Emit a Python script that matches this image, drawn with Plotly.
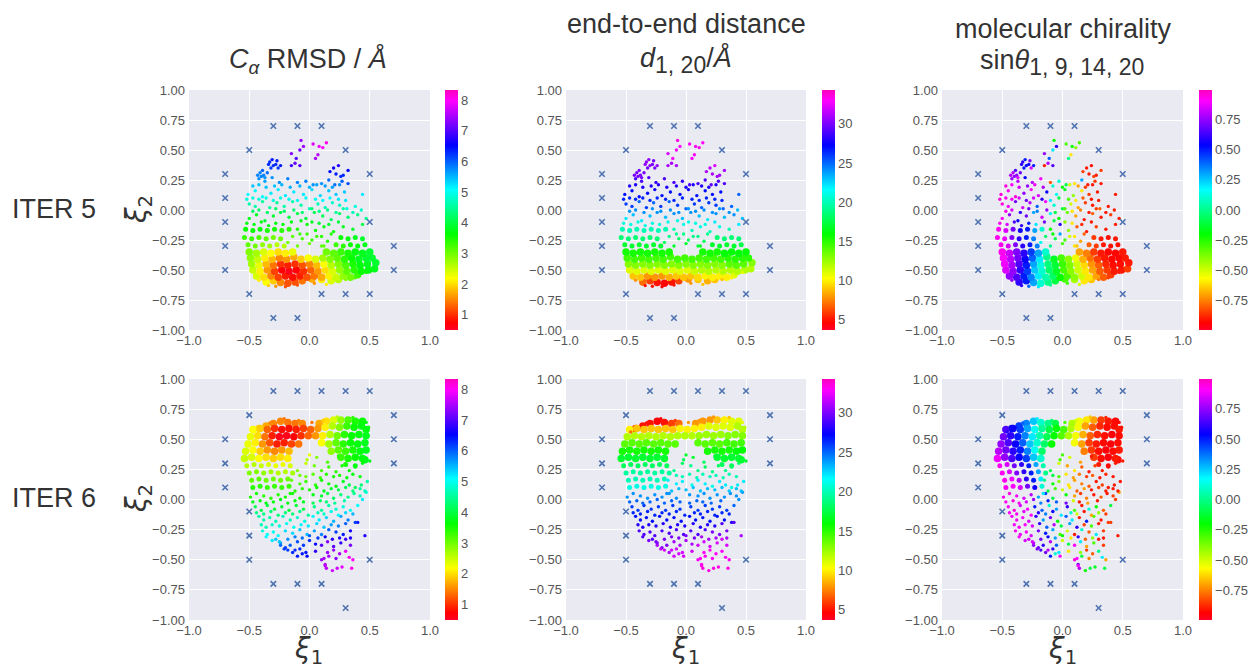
import plotly.graph_objects as go

# ---------- values ----------
# ITER 5, dense cloud
x5_dense = [-.36,-.30,-.24,-.18,-.12,-.06,.02,.10,.18,.24,
 -.44,-.38,-.32,-.26,-.20,-.14,-.08,-.02,.04,.10,.16,.22,.28,.34,.40,
 -.47,-.41,-.35,-.29,-.23,-.17,-.11,-.05,.01,.07,.13,.19,.25,.31,.37,.43,.49,.54,
 -.48,-.42,-.36,-.30,-.24,-.18,-.12,-.06,0,.06,.12,.18,.24,.30,.36,.42,.48,.55,
 -.49,-.43,-.37,-.31,-.25,-.19,-.13,-.07,-.01,.05,.11,.17,.23,.29,.35,.41,.47,.52,
 -.50,-.44,-.38,-.32,-.26,-.20,-.14,.14,.20,.26,.32,.38,.44,.50,
 -.51,-.45,-.39,-.33,-.27,-.21,.22,.28,.34,.40,.46,
 -.54,-.48,-.42,-.36,-.30,-.24,.26,.32,.38,.44,
 -.53,-.47,-.41,-.35,-.29,-.23,-.17]
y5_dense = [-.60,-.59,-.605,-.61,-.60,-.59,-.575,-.58,-.59,-.58,
 -.55,-.56,-.55,-.56,-.55,-.56,-.55,-.56,-.55,-.56,-.55,-.56,-.55,-.56,-.54,
 -.50,-.51,-.50,-.51,-.50,-.51,-.50,-.51,-.50,-.51,-.50,-.51,-.50,-.51,-.50,-.51,-.50,-.49,
 -.45,-.46,-.45,-.46,-.45,-.46,-.45,-.46,-.45,-.46,-.45,-.46,-.45,-.46,-.45,-.46,-.45,-.44,
 -.40,-.41,-.40,-.41,-.40,-.41,-.39,-.41,-.40,-.41,-.40,-.41,-.40,-.41,-.40,-.41,-.40,-.40,
 -.35,-.36,-.35,-.36,-.35,-.36,-.35,-.35,-.36,-.35,-.36,-.35,-.36,-.35,
 -.29,-.30,-.29,-.30,-.29,-.30,-.29,-.30,-.29,-.30,-.29,
 -.23,-.24,-.23,-.24,-.23,-.24,-.23,-.24,-.23,-.24,
 -.16,-.17,-.16,-.17,-.16,-.17,-.16]
rmsd5_dense = [2.2,1.9,1.5,1.2,1.2,1.4,1.7,2.1,2.4,2.6,
 2.4,2.0,1.5,1.1,.9,.8,.9,1.2,1.4,1.7,2.1,2.5,2.8,3.0,3.3,
 2.5,2.1,1.6,1.1,.7,.6,.7,1.0,1.3,1.6,2.0,2.4,2.8,3.1,3.4,3.6,3.7,3.8,
 2.7,2.3,1.8,1.4,1.0,.9,1.0,1.2,1.5,1.8,2.2,2.6,2.9,3.2,3.5,3.7,3.8,3.9,
 2.8,2.5,2.1,1.8,1.5,1.6,1.7,1.9,2.2,2.4,2.7,2.9,3.1,3.4,3.6,3.8,3.9,3.9,
 2.9,2.7,2.4,2.2,2.0,2.1,2.3,3.0,3.1,3.3,3.5,3.7,3.8,3.9,
 3.1,3.0,2.8,2.7,2.6,2.6,3.3,3.4,3.6,3.7,3.8,
 3.3,3.3,3.2,3.1,3.0,3.0,3.6,3.7,3.8,3.9,
 3.6,3.6,3.6,3.5,3.5,3.4,3.4]
dist5_dense = [7,6,5,4.5,5,6,8,9,8.5,9,
 9,9,8,8,8,8.5,9,9,9,9.5,10,10,10,10,11,
 11,11,11,11,11,11,11,11,11,11.5,12,12,12,12,12,12,12,12,
 13,13,13,13,13,13,13,13,13,13,13,13,13,13,14,14,14,13,
 14.5,14.5,14.5,14.5,14.5,14.5,14.5,14.5,14.5,14.5,14.5,14.5,14.5,14.5,15,15,15,15,
 15.5,15.5,15.5,15.5,15.5,15.5,15.5,15.5,15.5,15.5,16,16,16,16,
 17,17,17,17,17,17,17,17,17,17,17.5,
 18.5,18.5,18.5,18.5,18.5,18.5,18.5,18.5,18.5,18.5,
 20,20,20,20,20,20,20]
chir5_dense = [.6,.5,.3,.1,0,-.1,-.3,-.45,-.6,-.65,
 .75,.65,.5,.35,.2,.05,-.05,-.2,-.3,-.4,-.5,-.6,-.7,-.8,-.85,
 .85,.75,.6,.45,.25,.1,-.05,-.15,-.3,-.4,-.5,-.6,-.7,-.8,-.85,-.9,-.9,-.85,
 .88,.78,.65,.5,.3,.12,-.02,-.12,-.28,-.38,-.5,-.62,-.72,-.8,-.88,-.92,-.92,-.9,
 .9,.8,.7,.55,.4,.2,0,-.15,-.3,-.4,-.55,-.68,-.78,-.85,-.9,-.93,-.93,-.9,
 .92,.82,.72,.6,.45,.3,.1,-.7,-.75,-.85,-.9,-.93,-.93,-.9,
 .92,.85,.72,.6,.5,.35,-.8,-.85,-.9,-.92,-.92,
 .93,.88,.72,.6,.5,.35,-.85,-.9,-.92,-.9,
 .92,.85,.7,.55,.5,.3,.1]

# ITER 5, sparse points
x5_sparse = [-.10,0,.10,-.06,.06,.15,
 -.10,-.02,.05,.12,.20,.28,.36,.44,
 -.50,-.44,-.37,-.30,-.24,-.17,-.10,-.03,.04,.11,.18,.25,.32,.40,.47,
 -.50,-.45,-.39,-.33,-.27,-.21,-.14,-.07,0,.07,.13,.19,.25,.31,.38,
 -.51,-.45,-.39,-.32,-.26,-.20,-.13,-.05,.02,.09,.16,.22,.29,.44,
 -.42,-.37,-.31,-.25,-.18,-.10,-.03,.03,.10,.16,.21,.27,.32,
 -.41,-.38,-.34,-.30,-.27,-.24,-.15,-.12,-.08,.17,.20,.24,.28,.32,
 -.15,-.11,-.08,-.05,-.07,.03,.07,.08,.11,.14,.05,
 -.52,-.46,-.40,-.34,-.28,-.22,-.15,-.07,.02,.08,.16,.24,
 -.47,-.42,-.35,-.28,-.21,-.13,-.06,.02,.08,.15,.22,.28,.36,.43,
 -.52,-.47,-.42,-.36,-.30,-.24,-.17,-.10,-.03,.05,.11,.17,.24,.30,
 -.47,-.42,-.36,-.29,-.23,-.16,-.08,0,.06,.13,.19,.25,
 -.43,-.40,-.37,-.35,-.39,-.33,-.31,-.28,-.26,-.32,.22,.26,
 -.18,-.14,-.02,.02,.10,.18,.12,-.08,
 -.42,-.34,-.28,-.20,-.10,.04,.14,.30,.38,.47]
y5_sparse = [-.30,-.28,-.30,-.24,-.22,-.26,
 -.16,-.12,-.17,-.14,-.18,-.14,-.16,-.12,
 -.07,-.04,-.09,-.05,-.02,-.06,-.03,-.07,-.02,-.05,-.08,-.03,-.06,-.04,-.07,
 .05,.03,.07,.02,.06,.03,.07,.04,.01,.05,.02,.06,.04,.01,.03,
 .13,.16,.11,.14,.17,.12,.15,.13,.17,.12,.16,.13,.15,.13,
 .26,.24,.27,.23,.26,.23,.24,.21,.22,.25,.21,.24,.22,
 .31,.29,.38,.37,.41,.37,.37,.39,.37,.32,.35,.37,.29,.33,
 .47,.43,.50,.53,.58,.55,.46,.53,.52,.56,.43,
 -.11,-.12,-.10,-.13,-.11,-.12,-.10,-.09,-.10,-.11,-.12,-.10,
 -.01,0,-.02,.01,-.01,0,-.02,.01,-.01,0,-.02,.01,-.02,0,
 .09,.10,.09,.10,.08,.10,.09,.08,.10,.09,.08,.10,.09,.08,
 .20,.21,.19,.20,.21,.19,.20,.19,.21,.20,.19,.21,
 .29,.28,.27,.31,.33,.40,.42,.38,.35,.35,.30,.28,
 -.27,-.22,-.20,-.25,-.22,-.20,-.30,-.20,
 -.585,-.63,-.635,-.64,-.625,-.61,-.62,-.58,-.565,-.52]
rmsd5_sparse = [3.0,3.0,3.1,3.2,3.3,3.4,
 3.5,3.6,3.6,3.7,3.6,3.8,3.9,4.0,
 3.8,3.8,3.9,3.9,4.0,4.0,4.0,4.0,4.1,4.1,4.2,4.2,4.3,4.4,4.5,
 4.6,4.6,4.5,4.5,4.5,4.6,4.6,4.6,4.7,4.7,4.7,4.8,4.8,4.9,4.9,
 5.1,5.1,5.1,5.2,5.2,5.2,5.2,5.2,5.3,5.3,5.4,5.4,5.4,5.2,
 5.7,5.6,5.7,5.7,5.8,5.8,5.8,5.7,5.7,5.9,5.9,6.0,6.1,
 5.8,5.8,6.3,6.3,6.4,6.4,6.9,7.1,7.0,6.5,6.6,6.7,6.3,6.5,
 7.3,7.0,7.2,7.4,7.4,7.8,7.6,7.9,8.0,8.1,7.5,
 3.7,3.7,3.7,3.7,3.7,3.7,3.7,3.7,3.8,3.9,3.9,4.0,
 4.2,4.2,4.2,4.2,4.2,4.3,4.3,4.3,4.4,4.4,4.5,4.6,4.7,4.8,
 4.9,4.9,4.9,4.9,4.9,4.9,5.0,5.0,5.0,5.0,5.1,5.1,5.2,5.2,
 5.4,5.4,5.4,5.4,5.5,5.5,5.5,5.5,5.6,5.6,5.6,5.7,
 5.8,5.8,5.7,5.9,6.0,6.3,6.4,6.3,6.2,6.2,6.4,6.3,
 3.0,3.1,3.3,3.3,3.4,3.4,3.1,3.3,
 2.1,1.9,1.6,1.2,1.2,1.6,2.1,2.9,3.2,3.6]
dist5_sparse = [17,17,17,18,19,18,
 20,21,20,21,20,21,20,22,
 22,23,22,23,24,23,24,23,24,23,22,24,23,24,23,
 26,26,25,26,25,26,25,26,25,26,25,26,26,25,25,
 27,27,27,27,27.5,27,27,27,27.5,27,27,27,27,25,
 29,29,29,28.5,29,29,28.5,29,29,29,29.5,29,29,
 30,30,30.5,30.5,30,30.5,31,31,31,31,31.5,32,31,31,
 32,33,33,33,33.5,33,33,33,33.5,33,33,
 21,21,21,21,21,21,21,21,21,21,21,22,
 24,24,24,24,24,24,24,24,24,24,24,24,24,23,
 26.5,26.5,26.5,26.5,26.5,26.5,26.5,26.5,26.5,26.5,26.5,26.5,26.5,26.5,
 28,28,28,28,28,28,28,28,28,28,28,28,
 30,30,30,30,30,30.5,30.5,30,30,30,31,31,
 18,19,19,18,19,19,17,19,
 8,5,5,4.5,5,8,9,9,10,11]
chir5_sparse = [0,-.3,-.6,-.1,-.5,-.7,
 -.2,.6,-.4,-.8,-.9,-.85,-.9,-.9,
 .9,.75,.55,.7,.3,.85,.15,-.2,-.35,-.7,-.9,-.8,-.9,-.85,-.9,
 .95,.9,.7,.85,.8,.4,.9,.1,-.1,-.5,-.7,-.85,-.9,-.8,-.9,
 .95,.92,.95,.75,.9,.85,.55,.15,-.15,-.4,-.6,-.85,-.9,-.9,
 .75,.8,.55,.8,.9,-.8,.1,-.1,-.6,.3,-.9,-.85,-.9,
 .8,.75,.6,.55,.7,.5,-.9,.8,.65,-.85,-.9,-.92,-.9,-.85,
 .75,.4,.2,.6,-.2,-.3,-.6,-.2,-.4,-.3,0,
 .92,.85,.65,.6,.5,.2,.7,-.1,-.4,-.6,-.88,-.9,
 .92,.85,.6,.7,.35,.75,-.1,-.3,-.6,-.75,-.9,-.85,-.9,-.9,
 .95,.92,.9,.85,.7,.85,.6,.2,-.1,-.3,-.6,-.8,-.9,-.9,
 .95,.9,.85,.75,.9,.8,.1,-.2,-.5,-.7,-.85,-.9,
 .8,.75,.85,.7,.65,.6,.5,.55,.85,.5,-.9,-.85,
 .15,-.05,.3,-.3,-.6,-.8,-.65,-.2,
 .75,.6,.4,.2,0,-.3,-.5,-.75,-.85,-.9]

# ITER 6, dense cloud
x6_dense = [-.42,-.36,-.30,-.24,-.18,-.12,-.06,.08,.14,.20,.26,.32,.38,.44,
 -.47,-.41,-.35,-.29,-.23,-.17,-.11,-.05,.01,.07,.13,.19,.25,.31,.37,.43,.47,
 -.49,-.43,-.37,-.31,-.25,-.19,-.13,-.07,-.01,.05,.11,.17,.23,.29,.35,.41,.47,
 -.51,-.45,-.39,-.33,-.27,-.21,-.15,-.09,.10,.16,.22,.28,.34,.40,.46,
 -.53,-.47,-.41,-.35,-.29,-.23,-.17,.18,.24,.30,.36,.42,.47,
 -.54,-.48,-.42,-.36,-.30,-.24,-.18,.46,.26,.32,.38,.44,
 -.52,-.46,-.40,-.34,-.28,-.22,-.16,.30,.38,
 -.50,-.44,-.38,-.32,-.26,-.20,-.14,
 -.48,-.42,-.36,-.30,-.24,-.18,
 -.47,-.41,-.35,-.29,-.23,-.17]
y6_dense = [.59,.61,.63,.65,.64,.63,.63,.63,.65,.66,.66,.66,.65,.65,
 .58,.59,.58,.59,.58,.59,.58,.59,.58,.59,.60,.61,.60,.61,.60,.61,.58,
 .52,.53,.52,.53,.52,.53,.52,.53,.53,.53,.53,.54,.53,.54,.53,.54,.53,
 .46,.47,.46,.47,.46,.47,.46,.46,.47,.46,.47,.46,.47,.46,.47,
 .40,.41,.40,.41,.40,.41,.40,.40,.41,.40,.41,.40,.41,
 .34,.35,.34,.35,.34,.35,.34,.33,.35,.34,.35,.34,
 .28,.29,.28,.29,.28,.29,.28,.29,.28,
 .22,.23,.22,.23,.22,.23,.22,
 .16,.17,.16,.17,.16,.17,
 .10,.11,.10,.11,.10,.11]
rmsd6_dense = [2.0,1.7,1.5,1.5,1.4,1.4,1.5,1.7,2.0,2.4,2.8,3.2,3.5,3.6,
 2.2,1.9,1.3,1.0,.8,.8,.9,1.1,1.3,1.6,2.1,2.6,2.9,3.3,3.6,3.7,3.7,
 2.3,2.0,1.4,.9,.6,.6,.7,1.0,1.3,1.6,2.1,2.6,3.0,3.4,3.6,3.7,3.8,
 2.3,2.1,1.6,1.2,.9,.9,1.1,1.4,2.2,2.7,3.1,3.4,3.6,3.7,3.8,
 2.4,2.2,1.9,1.6,1.5,1.6,1.8,2.8,3.1,3.3,3.5,3.7,3.8,
 2.5,2.4,2.2,2.0,1.9,2.0,2.1,3.8,3.3,3.5,3.6,3.7,
 2.6,2.6,2.5,2.4,2.3,2.3,2.4,3.5,3.7,
 2.9,2.9,2.8,2.7,2.6,2.6,2.7,
 3.1,3.1,3.0,3.0,3.0,3.0,
 3.4,3.4,3.3,3.3,3.3,3.3]
dist6_dense = [6,5,5,4.5,5,6,7,8,8,8,9,10,11,11,
 10,9,9,9,9,9,9,10,10,10,10,11,11,11,11,12,12,
 12,12,12,12,12,12,12,12,12,12,12.5,12.5,12.5,12.5,13,13,13,
 14,14,14,14,14,14,14,14,14,14,14,14,14.5,14.5,14.5,
 15.5,15.5,15.5,15.5,15.5,15.5,15.5,15.5,15.5,15.5,15.5,16,16,
 17,17,17,17,17,17,17,17,17,17,17,17,
 18,18,18,18,18,18,18,18,18,
 19.5,19.5,19.5,19.5,19.5,19.5,19.5,
 20,20,20,20,20,20,
 21,21,21,21,21,21]
chir6_dense = [.55,.45,.35,.25,.1,0,-.1,-.45,-.55,-.6,-.7,-.85,-.9,-.93,
 .65,.55,.45,.3,.15,.02,-.1,-.2,-.3,-.45,-.55,-.7,-.8,-.88,-.92,-.92,-.9,
 .7,.6,.5,.35,.2,.05,-.08,-.2,-.32,-.45,-.55,-.68,-.8,-.88,-.92,-.95,-.92,
 .75,.65,.55,.4,.25,.1,-.05,-.2,-.55,-.7,-.85,-.9,-.93,-.95,-.92,
 .8,.7,.6,.5,.35,.15,-.05,-.75,-.85,-.92,-.95,-.92,-.9,
 .88,.75,.65,.55,.45,.25,.1,-.92,-.85,-.92,-.95,-.9,
 .92,.85,.7,.6,.5,.3,.05,-.9,-.92,
 .92,.85,.72,.6,.5,.3,0,
 .93,.88,.8,.6,.5,.2,
 .92,.9,.85,.7,.55,.1]

# ITER 6, sparse points
x6_sparse = [-.10,-.03,.04,.10,.16,.22,.27,.33,.38,.44,.50,0,
 -.15,-.08,-.03,.05,.10,.16,.22,.28,.33,.38,.43,.48,
 -.49,-.44,-.38,-.32,-.26,-.20,-.14,-.08,.10,.15,.20,.26,.32,.37,.42,.47,
 -.45,-.40,-.35,-.29,-.23,-.17,-.11,-.05,.04,.10,.16,.22,.28,.34,.40,
 -.42,-.38,-.33,-.28,-.22,-.16,-.10,-.04,.03,.08,.14,.20,.26,.32,.38,
 -.39,-.35,-.30,-.26,-.20,-.14,-.08,-.02,.04,.10,.16,.22,.28,.34,.46,
 -.28,-.24,-.20,-.16,-.10,-.05,0,.05,.10,.15,.20,.26,.30,.34,
 -.14,-.10,-.06,-.02,.05,.10,.13,.16,.20,.25,.30,.33,.36,.22,
 .14,.19,.23,.27,.35,.13,
 -.08,-.03,.03,.09,.14,.20,.25,.31,.36,.42,-.02,.06,.15,.24,
 -.12,-.06,0,.06,.12,.18,.24,.30,.36,.42,.46,.03,-.16,
 -.47,-.41,-.36,-.30,-.24,-.18,-.12,-.05,.03,.09,.14,.21,.29,.44,
 -.44,-.38,-.32,-.26,-.20,-.14,-.08,-.01,.07,.12,.18,.24,.30,.36,
 -.40,-.36,-.31,-.25,-.19,-.13,-.07,-.01,.06,.12,.18,.24,.30,.40,
 -.36,-.31,-.25,-.18,-.12,-.06,0,.07,.13,.19,.25,.34,
 -.24,-.21,-.18,-.12,-.08,-.03,.15,.12,
 -.46,-.33,-.21,-.09,.02,.11,.23,.36,.47,.49]
y6_sparse = [.24,.30,.28,.24,.27,.23,.28,.24,.27,.30,.32,.37,
 .16,.13,.15,.12,.16,.13,.11,.15,.12,.10,.12,.15,
 .02,.05,.03,.01,.04,.02,.05,.01,.03,.05,.01,.04,.02,.05,.03,.06,
 -.06,-.09,-.05,-.08,-.06,-.09,-.05,-.08,-.06,-.09,-.05,-.08,-.06,-.09,-.05,
 -.14,-.17,-.15,-.18,-.14,-.17,-.15,-.18,-.14,-.17,-.15,-.18,-.14,-.17,-.19,
 -.26,-.29,-.27,-.30,-.26,-.28,-.25,-.29,-.26,-.29,-.25,-.27,-.29,-.26,-.30,
 -.33,-.36,-.40,-.38,-.35,-.38,-.34,-.37,-.38,-.35,-.39,-.36,-.33,-.38,
 -.44,-.47,-.45,-.47,-.43,-.50,-.54,-.47,-.42,-.45,-.43,-.48,-.50,-.49,
 -.57,-.59,-.57,-.56,-.57,-.55,
 .20,.19,.21,.18,.21,.19,.20,.18,.21,.19,.33,.35,.31,.36,
 .07,.09,.08,.10,.07,.09,.08,.10,.07,.09,.07,.04,.05,
 -.02,-.01,-.03,-.02,0,-.03,-.01,-.02,-.03,-.01,-.02,-.03,-.01,0,
 -.11,-.12,-.10,-.13,-.11,-.12,-.10,-.13,-.11,-.12,-.10,-.13,-.11,-.12,
 -.21,-.23,-.21,-.22,-.20,-.23,-.21,-.22,-.20,-.23,-.21,-.22,-.20,-.19,
 -.31,-.34,-.35,-.33,-.31,-.32,-.30,-.32,-.31,-.33,-.32,-.32,
 -.38,-.41,-.42,-.42,-.41,-.44,-.44,-.49,
 .56,.635,.67,.655,.64,.655,.685,.68,.64,.60]
rmsd6_sparse = [2.9,2.5,3.0,3.2,3.3,3.4,3.5,3.6,3.7,3.7,3.8,2.3,
 3.1,3.2,3.3,3.4,3.5,3.6,3.7,3.8,4.0,4.1,4.3,4.6,
 3.5,3.5,3.4,3.4,3.4,3.5,3.5,3.5,3.9,4.0,4.2,4.3,4.4,4.5,4.7,4.9,
 4.1,4.0,4.0,3.9,3.9,3.9,3.9,4.0,4.4,4.5,4.6,4.8,4.9,5.0,5.1,
 4.6,4.6,4.6,4.7,4.7,4.7,4.8,4.9,5.1,5.2,5.3,5.5,5.6,5.8,6.2,
 4.9,5.0,5.0,5.1,5.3,5.3,5.4,5.5,5.6,5.8,6.0,6.2,6.4,6.6,6.7,
 5.4,5.6,6.2,6.0,6.1,6.2,6.3,6.5,7.0,7.3,7.0,6.8,6.9,7.2,
 6.3,6.4,6.4,6.5,6.8,7.4,7.5,7.5,7.4,7.5,7.9,8.0,8.0,7.3,
 7.6,7.7,7.7,7.8,8.1,7.6,
 3.0,3.0,3.1,3.3,3.4,3.5,3.5,3.6,3.7,3.7,2.6,2.9,3.2,3.4,
 3.4,3.4,3.5,3.6,3.8,3.9,4.0,4.1,4.3,4.5,4.7,3.7,3.5,
 3.8,3.7,3.7,3.7,3.7,3.7,3.7,3.8,4.1,4.2,4.3,4.5,4.6,5.2,
 4.4,4.4,4.3,4.3,4.3,4.3,4.4,4.5,4.7,4.8,5.0,5.1,5.3,5.5,
 4.7,4.7,4.8,4.9,5.0,5.0,5.1,5.2,5.3,5.4,5.6,5.8,6.0,6.4,
 5.1,5.2,5.4,5.7,5.8,5.9,6.0,6.2,6.6,6.8,6.7,6.7,
 5.9,6.2,6.2,6.3,6.3,6.4,7.4,7.5,
 2.2,1.5,1.4,1.5,1.4,1.9,2.6,3.4,3.7,3.7]
dist6_sparse = [19,18,19,19,18,19,18,19,18,18,17,17,
 22,22,22,21,22,22,21,22,22,21,22,22,
 24,24,24,24,24,24,24,24,24,24,24,24,24,24,24,24,
 26,26,26,26,26,26,26,26,26,26,26,26,26,26,25,
 27,27,27,27,27,27,27,27,27,27,27,27,27,27,28,
 29,29,29,29,29,29,29,29,29,29,29,30,30,30,31,
 29,30,30,30,31,31,31,31,32,32,32,32,32,32,
 31,32,32,32,32,33,33,33,33,33,33,33,33,33,
 33.5,33.5,33.5,33.5,33.5,33.5,
 20,20,20,20,20,20,20,20,20,20,18,17,18,17,
 23,23,23,23,23,23,23,23,23,23,23,24,24,
 25,25,25,25,25,25,25,25,25,25,25,25,25,24,
 26.5,26.5,26.5,26.5,26.5,26.5,26.5,26.5,26.5,26.5,26.5,26.5,26.5,26.5,
 28,28,28,28,28,28,28,28,28,28,28,28,29,29,
 29,30,30,30,30,30,30,30,31,31,31,31,
 31,31.5,32,32,32,32,33,33,
 7,5,4.5,6,8,8,8,9,11,12]
chir6_sparse = [-.1,-.5,-.7,-.6,-.8,-.9,-.85,-.9,-.92,-.9,-.9,-.3,
 0,-.2,-.4,-.6,-.7,-.75,-.8,-.9,-.85,-.9,-.9,-.9,
 .92,.95,.9,.85,.8,.3,.45,-.1,-.7,-.85,-.75,-.9,-.8,-.9,-.85,-.7,
 .9,.95,.85,.9,.5,.4,.1,.3,.6,-.3,-.9,.1,-.2,-.8,-.1,
 .9,.92,.9,.85,.6,.3,.7,-.2,.4,.2,-.9,.5,-.3,-.9,-.85,
 .92,.88,.9,.85,.7,.5,.3,-.3,-.5,-.9,.1,-.8,.2,-.85,-.9,
 .85,.8,.7,.6,.8,.4,-.5,-.1,.9,.2,-.7,-.3,-.9,-.85,
 .7,.5,.1,.9,-.6,.95,.7,-.1,-.85,-.8,0,.2,-.7,-.75,
 .8,-.2,-.1,-.15,-.1,.9,
 -.1,-.3,-.6,-.7,-.75,-.85,-.8,-.9,-.88,-.9,-.3,-.5,-.7,-.9,
 -.1,-.3,-.5,-.6,-.8,-.7,-.9,-.85,-.9,-.9,-.9,-.2,.2,
 .92,.95,.9,.85,.75,.35,.5,.4,.7,-.5,-.9,-.7,-.9,-.85,
 .9,.92,.85,.9,.6,.35,.55,.2,.1,-.5,-.9,-.7,-.4,-.85,
 .9,.92,.9,.85,.6,.4,.8,-.1,.3,.6,-.85,-.3,-.9,-.85,
 .9,.85,.85,.7,.55,.3,-.2,-.6,.6,-.8,-.4,-.9,
 .75,.7,.65,.8,.6,.2,-.4,.9,
 .6,.4,.2,-.05,-.3,-.5,-.65,-.88,-.93,-.92]

# cross markers
x5_cross = [-.3,-.1,.1,-.5,.3,-.7,.5,-.7,-.7,.5,-.7,.7,-.7,.7,-.5,.1,.3,.5,-.3,-.1]
y5_cross = [.7,.7,.7,.5,.5,.3,.3,.1,-.1,-.1,-.3,-.3,-.5,-.5,-.7,-.7,-.7,-.7,-.9,-.9]
x6_cross = [-.3,-.1,.1,.3,.5,-.5,.7,-.7,.7,-.7,.7,-.7,-.5,-.5,-.5,.5,-.3,-.1,.1,.3]
y6_cross = [.9,.9,.9,.9,.9,.7,.7,.5,.5,.3,.3,.1,-.1,-.3,-.5,-.5,-.7,-.7,-.7,-.9]

xtick_vals = [-1.0,-0.5,0.0,0.5,1.0]
ytick_vals = [-1.0,-0.75,-0.5,-0.25,0.0,0.25,0.5,0.75,1.0]
rmsd_range = [0.5,8.33];  rmsd_ticks = [1,2,3,4,5,6,7,8]
dist_range = [3.7,34.3];  dist_ticks = [5,10,15,20,25,30]
chir_range = [-0.995,0.995]; chir_ticks = [-0.75,-0.5,-0.25,0,0.25,0.5,0.75]

for group in ([x5_dense,y5_dense,rmsd5_dense,dist5_dense,chir5_dense],
              [x5_sparse,y5_sparse,rmsd5_sparse,dist5_sparse,chir5_sparse],
              [x6_dense,y6_dense,rmsd6_dense,dist6_dense,chir6_dense],
              [x6_sparse,y6_sparse,rmsd6_sparse,dist6_sparse,chir6_sparse]):
    assert len({len(g) for g in group}) == 1, [len(g) for g in group]

# ---------- layout constants ----------
W, H = 1254, 668
FONT = "Liberation Sans"
TICK = "#555555"
gist_rainbow = [[0,"#ff0029"],[.03,"#ff0000"],[.215,"#ffff00"],[.4,"#00ff00"],
                [.586,"#00ffff"],[.77,"#0000ff"],[.954,"#ff00ff"],[1,"#ff00bf"]]
cols = [(189,430,445),(566,806,822),(942,1183,1199)]
rows = [(90,330),(379,620)]
channels = [("rmsd",rmsd_range,rmsd_ticks,None),
            ("dist",dist_range,dist_ticks,None),
            ("chir",chir_range,chir_ticks,".2f")]
data = {
 5:{"dense":(x5_dense,y5_dense,{"rmsd":rmsd5_dense,"dist":dist5_dense,"chir":chir5_dense}),
    "sparse":(x5_sparse,y5_sparse,{"rmsd":rmsd5_sparse,"dist":dist5_sparse,"chir":chir5_sparse}),
    "cross":(x5_cross,y5_cross)},
 6:{"dense":(x6_dense,y6_dense,{"rmsd":rmsd6_dense,"dist":dist6_dense,"chir":chir6_dense}),
    "sparse":(x6_sparse,y6_sparse,{"rmsd":rmsd6_sparse,"dist":dist6_sparse,"chir":chir6_sparse}),
    "cross":(x6_cross,y6_cross)},
}
# the last 28 points of each dense cloud lie where the cloud thins out
THIN = 28

fig = go.Figure()
layout = {}
n = 0
for r,(top,bot) in enumerate(rows):
    it = 5+r
    for c,(l,rgt,cb) in enumerate(cols):
        n += 1
        s = "" if n==1 else str(n)
        name,rng,ticks,fmt = channels[c]
        xs,ys,vals = data[it]["dense"]
        v = vals[name]
        xd,yd,vd = data[it]["sparse"]
        vs = vd[name]
        sizes = [7.5]*(len(xs)-THIN)+[5]*THIN
        fig.add_trace(go.Scatter(x=xs,y=ys,mode="markers",xaxis="x"+s,yaxis="y"+s,showlegend=False,
            marker=dict(size=sizes,opacity=1,color=v,coloraxis="coloraxis"+s,line=dict(width=0))))
        fig.add_trace(go.Scatter(x=xd,y=yd,mode="markers",xaxis="x"+s,yaxis="y"+s,showlegend=False,
            marker=dict(size=3.4,opacity=1,color=vs,coloraxis="coloraxis"+s,line=dict(width=0))))
        xs,ys = data[it]["cross"]
        fig.add_trace(go.Scatter(x=xs,y=ys,mode="markers",xaxis="x"+s,yaxis="y"+s,showlegend=False,
            marker=dict(symbol="x-thin",size=5.5,line=dict(width=1.6,color="#4c72b0"),color="#4c72b0")))
        common = dict(showgrid=True,gridcolor="white",gridwidth=1,zeroline=False,showline=False,ticks="",
                      tickfont=dict(family=FONT,size=13,color=TICK),range=[-1,1],fixedrange=True)
        layout["xaxis"+s] = dict(common,domain=[l/W,rgt/W],anchor="y"+s,tickvals=xtick_vals,tickformat=".1f",ticklabelstandoff=1)
        layout["yaxis"+s] = dict(common,domain=[1-bot/H,1-top/H],anchor="x"+s,tickvals=ytick_vals,tickformat=".2f",ticklabelstandoff=3)
        cbar = dict(x=cb/W,xanchor="left",xpad=0,y=1-(top+bot)/2/H,yanchor="middle",ypad=0,len=(bot-top)/H,lenmode="fraction",
                    thickness=13,thicknessmode="pixels",outlinewidth=0,tickvals=ticks,ticks="",
                    tickfont=dict(family=FONT,size=13,color=TICK))
        if fmt: cbar["tickformat"] = fmt
        layout["coloraxis"+s] = dict(cmin=rng[0],cmax=rng[1],colorscale=gist_rainbow,colorbar=cbar)

def note(px,py,text,size,angle=0,family=FONT,color="#333333"):
    return dict(x=px/W,y=1-py/H,xref="paper",yref="paper",text=text,showarrow=False,textangle=angle,
                font=dict(family=family,size=size,color=color),xanchor="center",yanchor="middle")

def small(t):
    return '<sub><span style="font-size:23px">'+t+'</span></sub>'

ann = [
 note(308,60,"<i>C</i><sub><i>α</i></sub> RMSD / <i>Å</i>",27),
 note(686,24,"end-to-end distance",27),
 note(686,60,"<i>d</i>"+small("1, 20")+"/<i>Å</i>",27),
 note(1063,29,"molecular chirality",27),
 note(1062,63,"sin<i>θ</i>"+small("1, 9, 14, 20"),27),
 note(54,209,"ITER 5",27),
 note(54,498,"ITER 6",27),
 note(138,210,"<i>ξ</i><sub>2</sub>",28,-90,"DejaVu Sans"),
 note(138,499,"<i>ξ</i><sub>2</sub>",28,-90,"DejaVu Sans"),
 note(308,650,"<i>ξ</i><sub>1</sub>",28,0,"DejaVu Sans"),
 note(685,650,"<i>ξ</i><sub>1</sub>",28,0,"DejaVu Sans"),
 note(1062,650,"<i>ξ</i><sub>1</sub>",28,0,"DejaVu Sans"),
]
fig.update_layout(width=W,height=H,margin=dict(l=0,r=0,t=0,b=0,autoexpand=False),paper_bgcolor="white",plot_bgcolor="#eaeaf2",
                  showlegend=False,annotations=ann,**layout)
fig.write_html("out.html",config={"displayModeBar":False},post_script="document.body.style.margin='0';")
